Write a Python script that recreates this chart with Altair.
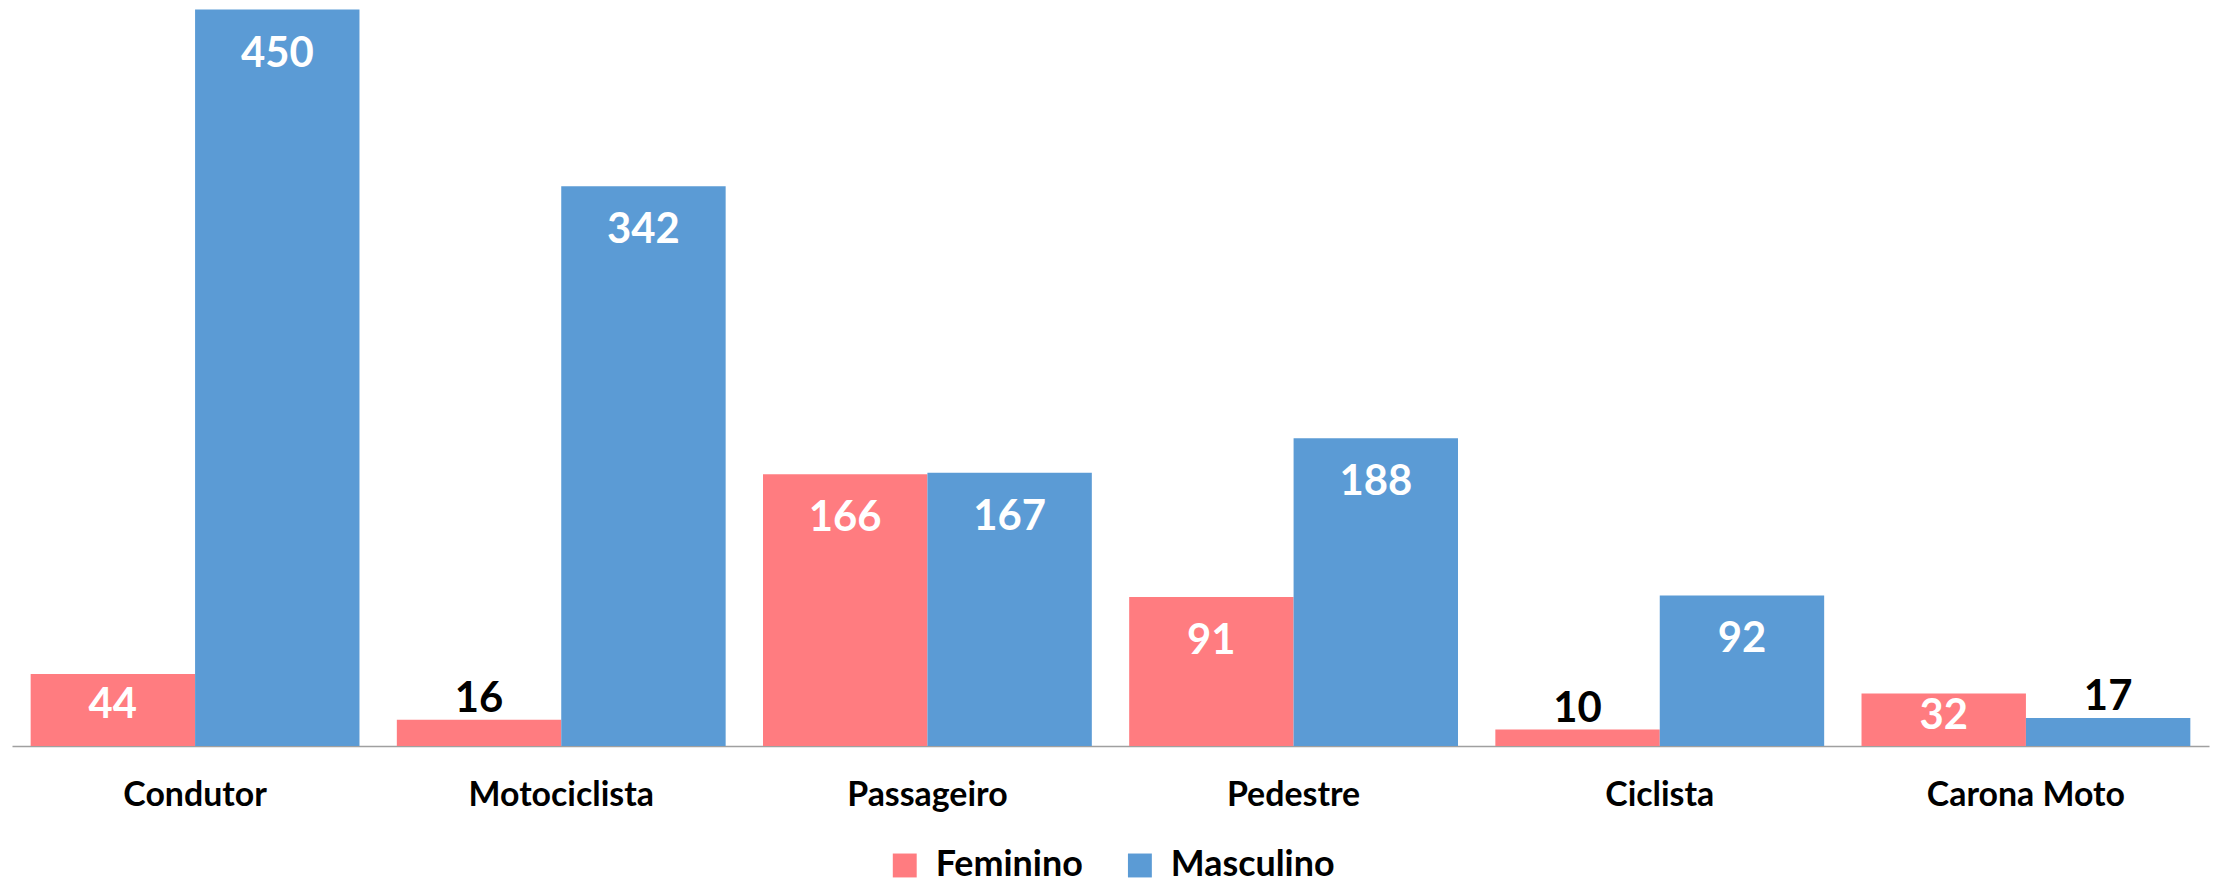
import altair as alt
import pandas as pd

categorias = ["Condutor", "Motociclista", "Passageiro", "Pedestre", "Ciclista", "Carona Moto"]
feminino = [44, 16, 166, 91, 10, 32]
masculino = [450, 342, 167, 188, 92, 17]
sexos = ["Feminino", "Masculino"]
cores = ["#FF7C80", "#5B9BD5"]

rows = []
for c, f, m in zip(categorias, feminino, masculino):
    rows.append({"Categoria": c, "Sexo": "Feminino", "Valor": f})
    rows.append({"Categoria": c, "Sexo": "Masculino", "Valor": m})
df = pd.DataFrame(rows)

FONT = "Lato"

x = alt.X("Categoria:N", sort=categorias, title=None,
          scale=alt.Scale(paddingInner=0.102, paddingOuter=0.051),
          axis=alt.Axis(labelAngle=0, labelFont=FONT, labelFontWeight="bold",
                        labelFontSize=34, labelColor="black", labelPadding=33,
                        labelLimit=0,
                        ticks=False, domainColor="#A0A0A0", domainWidth=1.5,
                        grid=False))
xoff = alt.XOffset("Sexo:N", sort=sexos, scale=alt.Scale(paddingInner=0, paddingOuter=0))
yscale = alt.Scale(domain=[0, 450], nice=False, zero=True)

base = alt.Chart(df)

bars = base.mark_bar().encode(
    x=x,
    xOffset=xoff,
    y=alt.Y("Valor:Q", scale=yscale, axis=None, title=None),
    color=alt.Color("Sexo:N", sort=sexos,
                    scale=alt.Scale(domain=sexos, range=cores),
                    legend=alt.Legend(title=None, orient="none", direction="horizontal",
                                      legendX=878, legendY=841, padding=0,
                                      symbolType="square", symbolSize=576,
                                      symbolStrokeWidth=0, symbolOpacity=1,
                                      labelFont=FONT, labelFontWeight="bold",
                                      labelFontSize=36, labelColor="black",
                                      labelLimit=0,
                                      labelOffset=13, columnPadding=39)),
)

labels = base.transform_calculate(
    pos="datum.Valor >= 20 ? datum.Valor - min(25.7, 0.4 * datum.Valor) : datum.Valor + 14"
).mark_text(font=FONT, fontWeight="bold", fontSize=42, baseline="middle",
            align="center", dy=2).encode(
    x=x,
    xOffset=xoff,
    y=alt.Y("pos:Q", scale=yscale, axis=None, title=None),
    text=alt.Text("Valor:Q"),
    color=alt.condition("datum.Valor >= 20", alt.value("white"), alt.value("black")),
)

chart = alt.layer(bars, labels).properties(
    width=2205, height=739,
    autosize=alt.AutoSizeParams(type="none"),
    padding={"left": 4, "top": 0, "right": 4, "bottom": 138},
).configure(background="white").configure_view(stroke=None)

chart.save("out.html", embed_options={"renderer": "svg", "actions": False})
